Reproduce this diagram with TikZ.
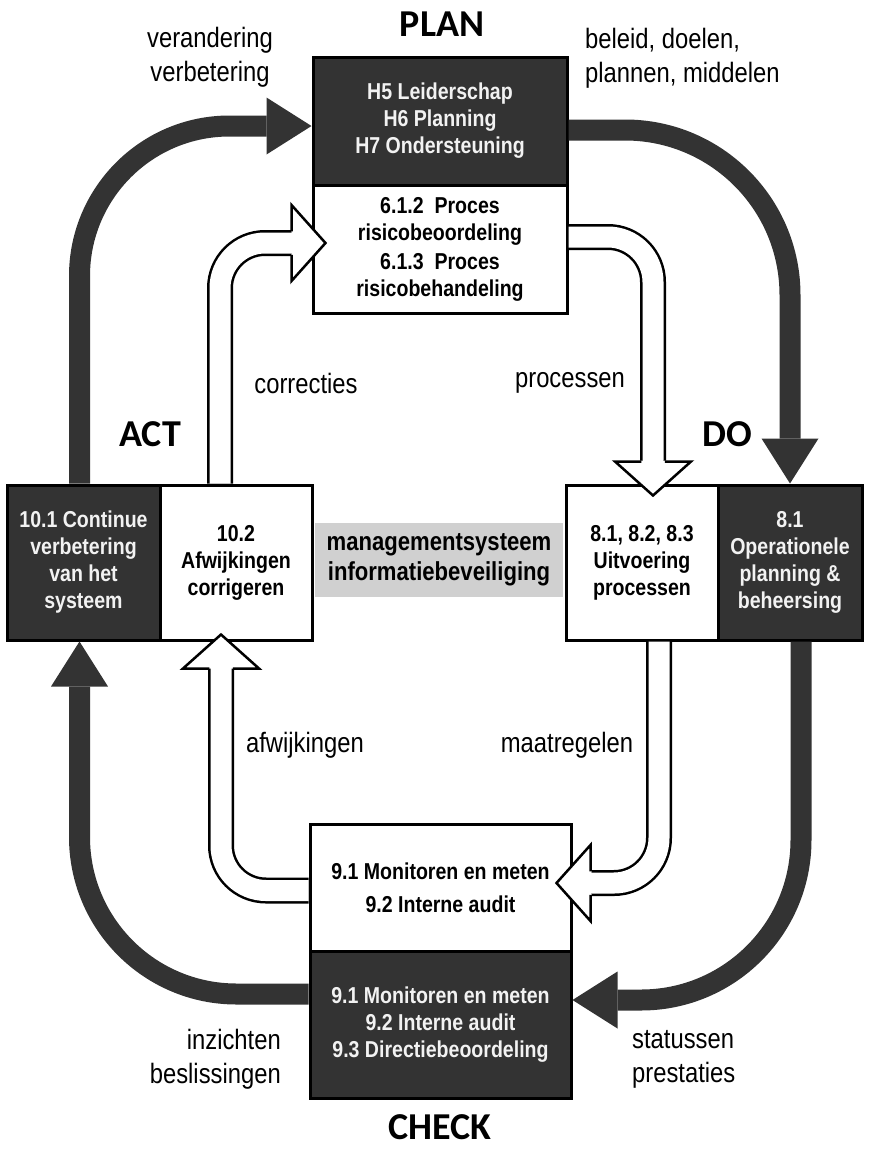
\documentclass[tikz,border=0pt]{standalone}
\usepackage{fontspec}
\setmainfont{Liberation Sans}
\newfontfamily\narf[FakeStretch=0.85]{Liberation Sans}
\newfontfamily\calf{Carlito}
\usetikzlibrary{arrows.meta}
\definecolor{dk}{HTML}{333333}
\definecolor{gr}{HTML}{D0D0D0}
\definecolor{lt}{HTML}{F2F2F2}
\newcommand{\boxfnt}{\narf\bfseries\fontsize{23}{27}\selectfont}
\newcommand{\lblfnt}{\narf\fontsize{28}{34}\selectfont}
\newcommand{\phfnt}{\calf\bfseries\fontsize{38}{40}\selectfont}
\newcommand{\hhead}[2]{\begin{scope}[shift={(#1)},rotate=#2]
\filldraw[fill=white,draw=black,line width=2.5pt,line join=miter] (-34,-11.75) -- (-34,-38) -- (0,0) -- (-34,38) -- (-34,11.75);
\fill[white] (-37,-10.3) rectangle (-32,10.3);
\end{scope}}
\begin{document}
\begin{tikzpicture}[x=1pt,y=-1pt,
  boxbase/.style={draw=black, line width=3pt, align=center, font=\boxfnt, inner sep=2pt},
  darkbox/.style={boxbase, fill=dk, text=lt},
  whitebox/.style={boxbase, fill=white, text=black},
  lbl/.style={font=\lblfnt, align=center, inner sep=0pt},
  phase/.style={font=\phfnt, inner sep=0pt},
  darr/.style={draw=dk, line width=21pt, -{Triangle[length=45pt,width=57pt,line width=0pt]}},
  hol/.style={draw=black, line width=2.5pt, double=white, double distance=21pt}]
\useasboundingbox (0,0) rectangle (870,1152);
% boxes
\node[darkbox, minimum width=254pt, minimum height=128pt] (pland) at (440,121) {H5 Leiderschap\\H6 Planning\\H7 Ondersteuning};
\node[whitebox, minimum width=254pt, minimum height=128pt] (planw) at (440,249) {6.1.2\ \ Proces\\risicobeoordeling\\[2pt]6.1.3\ \ Proces\\risicobehandeling};
\node[darkbox, minimum width=153pt, minimum height=155pt] (actd) at (83.5,562.5) {10.1 Continue\\verbetering\\van het\\systeem};
\node[whitebox, minimum width=152pt, minimum height=155pt] (actw) at (236,562.5) {10.2\\Afwijkingen\\corrigeren};
\node[whitebox, minimum width=152pt, minimum height=155pt] (dow) at (642,562.5) {8.1, 8.2, 8.3\\Uitvoering\\processen};
\node[darkbox, minimum width=144pt, minimum height=155pt] (dod) at (790,562.5) {8.1\\Operationele\\planning \&\\beheersing};
\node[whitebox, minimum width=261pt, minimum height=127pt] (checkw) at (440.5,887.5) {9.1 Monitoren en meten\\[6pt]9.2 Interne audit};
\node[darkbox, minimum width=261pt, minimum height=147pt] (checkd) at (440.5,1024.5) {9.1 Monitoren en meten\\9.2 Interne audit\\9.3 Directiebeoordeling};
\node[fill=gr, minimum width=248pt, minimum height=74pt, align=center, font=\narf\bfseries\fontsize{26}{30}\selectfont, inner sep=0pt] (ms) at (439,560) {managementsysteem\\informatiebeveiliging};
% dark arrows
\draw[darr, rounded corners=150pt] ([xshift=-4pt]actd.north) |- ([yshift=-5pt]pland.west);
\draw[darr, rounded corners=165pt] ([yshift=-9pt]pland.east) -| (dod.north);
\draw[darr, rounded corners=160pt] ([xshift=11pt]dod.south) |- ([yshift=24.5pt]checkd.east);
\draw[darr, rounded corners=157pt] ([yshift=30.5pt]checkd.west) -| ([xshift=-4pt]actd.south);
% hollow arrows
\draw[hol, rounded corners=45pt] ([xshift=-16pt]actw.north) |- ([xshift=-20pt,yshift=6pt]planw.west);
\coordinate (t1) at ([xshift=14pt,yshift=6pt]planw.west);
\hhead{t1}{0}
\draw[hol, rounded corners=45pt] ([yshift=12pt]planw.east) -| ([xshift=11pt,yshift=23pt]dow.north);
\coordinate (t2) at ([xshift=11pt,yshift=-12pt]dow.north);
\hhead{t2}{-90}
\draw[hol, rounded corners=45pt] ([xshift=17pt]dow.south) |- ([xshift=19pt,yshift=4.5pt]checkw.east);
\coordinate (t3) at ([xshift=-16pt,yshift=4.5pt]checkw.east);
\hhead{t3}{180}
\draw[hol, rounded corners=45pt] ([yshift=-3pt]checkw.west) -| ([xshift=-15pt,yshift=-25pt]actw.south);
\coordinate (t4) at ([xshift=-15pt,yshift=7pt]actw.south);
\hhead{t4}{90}
% labels
\node[phase] (lplan) at (442,24) {PLAN};
\node[phase] (lact) at (150,434) {ACT};
\node[phase] (ldo) at (727,434) {DO};
\node[phase] (lcheck) at (440,1127) {CHECK};
\node[lbl] (lver) at (210,57) {verandering\\verbetering};
\node[lbl, anchor=west, align=left] (lbel) at (585,58) {beleid, doelen,\\plannen, middelen};
\node[lbl] (lcor) at (306,383) {correcties};
\node[lbl] (lpro) at (570,383) {processen};
\node[lbl] (lafw) at (305,745) {afwijkingen};
\node[lbl] (lmaa) at (567,745) {maatregelen};
\node[lbl, anchor=east, align=right] (linz) at (281,1059) {inzichten\\beslissingen};
\node[lbl, anchor=west, align=left] (lsta) at (632,1059) {statussen\\prestaties};
\end{tikzpicture}
\end{document}
